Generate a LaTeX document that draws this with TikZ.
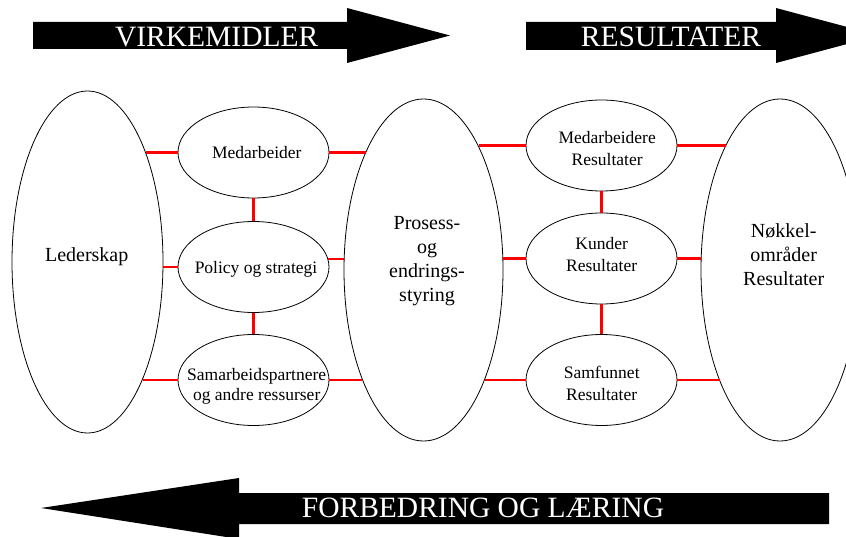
\documentclass[tikz,border=0pt]{standalone}
\usepackage{fontspec}
\setmainfont{Liberation Serif}
\usetikzlibrary{shapes.geometric}
\begin{document}
\begin{tikzpicture}[x=1pt,y=-1pt,
  oval/.style={draw=black, line width=0.8pt, ellipse, inner sep=0pt},
  small/.style={oval, minimum width=151pt, minimum height=91pt},
  big/.style={oval, minimum height=342pt},
  stxt/.style={inner sep=0pt, align=center, font=\fontsize{17.5}{22}\selectfont},
  btxt/.style={inner sep=0pt, align=center, font=\fontsize{20}{24}\selectfont},
  link/.style={draw=red, line width=2.7pt},
  bar/.style={fill=black},
  bartext/.style={text=white, anchor=base, inner sep=0pt, font=\fontsize{29.5}{30}\selectfont}]
\useasboundingbox (0,0) rectangle (846,537);
\clip (0,0) rectangle (846,537);
\fill[white] (0,0) rectangle (846,537);

% arrows
\fill[bar] (33,22) -- (347,22) -- (347,8) -- (450,35.5) -- (347,63) -- (347,49) -- (33,49) -- cycle;
\fill[bar] (526,22) -- (776,22) -- (776,8) -- (879,35.5) -- (776,63) -- (776,50) -- (526,50) -- cycle;
\fill[bar] (41,508) -- (239,478) -- (239,493) -- (829,493) -- (829,524) -- (239,524) -- (239,539) -- cycle;
\node[bartext] (t1) at (216.7,46.7) {VIRKEMIDLER};
\node[bartext] (t2) at (671,46.7) {RESULTATER};
\node[bartext] (t3) at (483,517.5) {FORBEDRING OG LÆRING};

% ellipses
\node[big, minimum width=151pt] (led) at (87.5,262) {};
\node[big, minimum width=159pt] (pro) at (423.5,270) {};
\node[big, minimum width=158pt] (nok) at (780,270) {};
\node[small] (med) at (253.5,152.5) {};
\node[small] (pol) at (253.5,267) {};
\node[small] (sam) at (253.5,380) {};
\node[small] (medr) at (601.5,145.5) {};
\node[small] (kun) at (601.5,258.5) {};
\node[small] (samr) at (601.5,380) {};

% texts
\node[btxt] (ledT) at (86.7,256.3) {Lederskap};
\node[btxt] (proT) at (427,261.3) {Prosess-\\og\\endrings-\\styring};
\node[btxt] (nokT) at (783.7,254.3) {Nøkkel-\\områder\\Resultater};
\node[stxt] (medT) at (256.8,153) {Medarbeider};
\node[stxt] (polT) at (256,268.9) {Policy og strategi};
\node[stxt, font=\fontsize{17.5}{20}\selectfont] (samT) at (256.7,386) {Samarbeidspartnere\\og andre ressurser};
\node[stxt] (medrT) at (607.2,148.7) {Medarbeidere\\Resultater};
\node[stxt] (kunT) at (601.7,254.9) {Kunder\\Resultater};
\node[stxt] (samrT) at (601.7,383.2) {Samfunnet\\Resultater};

% red links (horizontal)
\draw[link] (med.west) -- (med.west -| led.62);
\draw[link] (med.east) -- (med.east -| pro.116.2);
\draw[link] (pol.west) -- (pol.west -| led.-3.8);
\draw[link] (pol.6.1) -- (pol.6.1 -| pro.172.1);
\draw[link] (sam.west) -- (sam.west -| led.-65.2);
\draw[link] (sam.east) -- (sam.east -| pro.-119);
\draw[link] (medr.west) -- (medr.west -| pro.66.4);
\draw[link] (medr.east) -- (medr.east -| nok.113.5);
\draw[link] (kun.west) -- (kun.west -| pro.8.3);
\draw[link] (kun.east) -- (kun.east -| nok.171.7);
\draw[link] (samr.west) -- (samr.west -| pro.-61);
\draw[link] (samr.east) -- (samr.east -| nok.-118.8);
% red links (vertical)
\draw[link] (med.south) -- (pol.north);
\draw[link] (pol.south) -- (sam.north);
\draw[link] (medr.south) -- (kun.north);
\draw[link] (kun.south) -- (samr.north);
\end{tikzpicture}
\end{document}
